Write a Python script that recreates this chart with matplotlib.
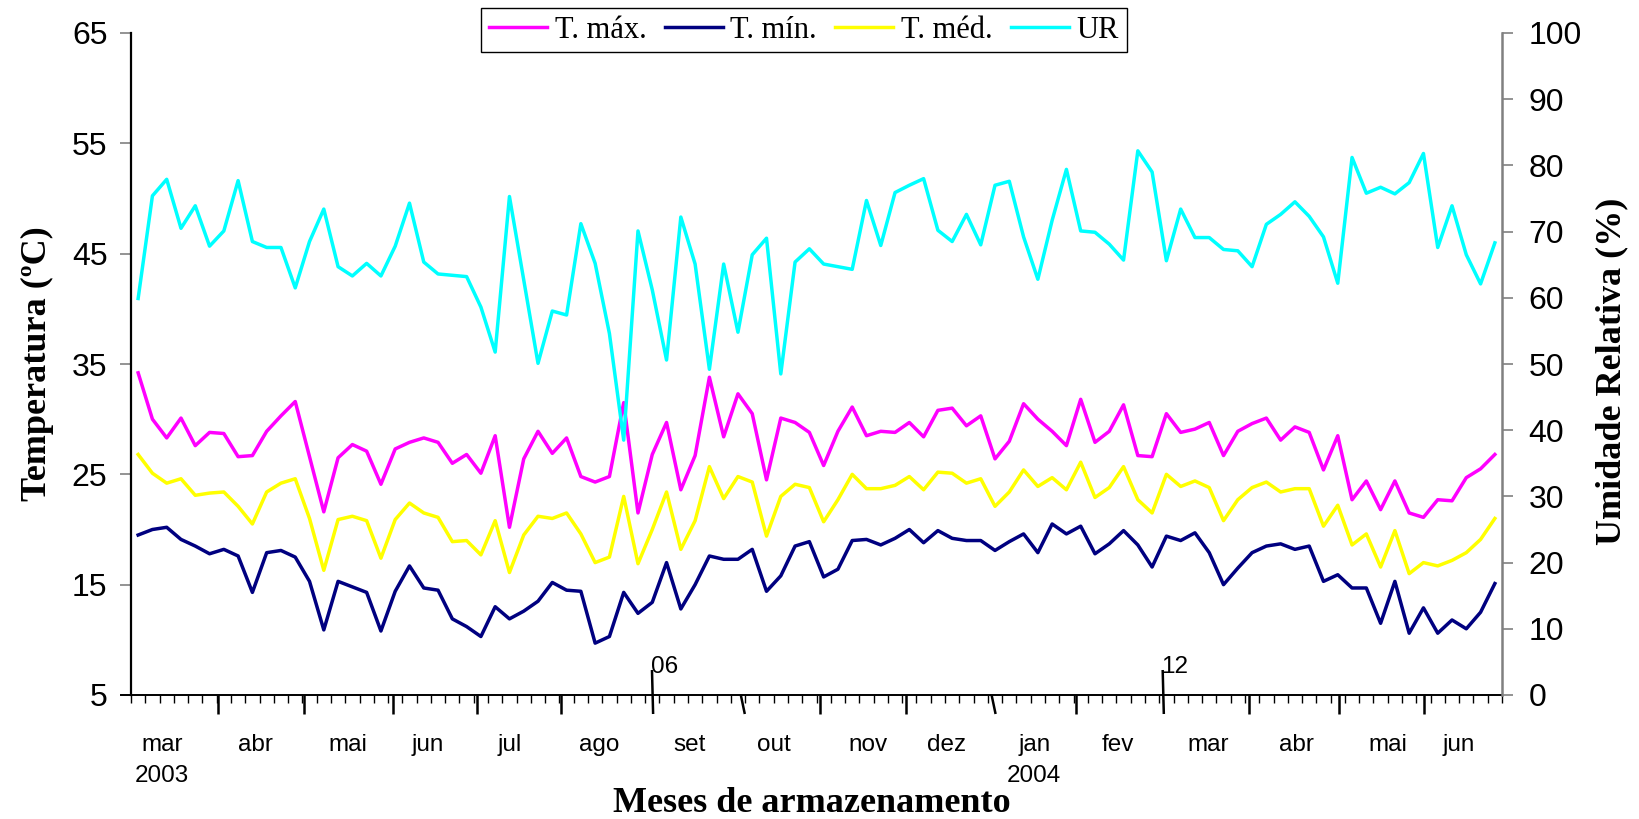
import matplotlib
matplotlib.use("Agg")
import matplotlib.pyplot as plt
import matplotlib.transforms as mtransforms
import numpy as np

# ---------------- data (5-day periods, mar/2003 - jun/2004) ----------------
t_max = [34.2, 30.0, 28.3, 30.1, 27.6, 28.8, 28.7, 26.6, 26.7, 28.9, 30.3, 31.6,
         26.6, 21.6, 26.5, 27.7, 27.1, 24.1, 27.3, 27.9, 28.3, 27.9, 26.0, 26.8,
         25.1, 28.5, 20.2, 26.4, 28.9, 26.9, 28.3, 24.8, 24.3, 24.8, 31.5, 21.5,
         26.8, 29.7, 23.6, 26.7, 33.8, 28.4, 32.3, 30.5, 24.5, 30.1, 29.7, 28.8,
         25.8, 28.9, 31.1, 28.5, 28.9, 28.8, 29.7, 28.4, 30.8, 31.0, 29.4, 30.3,
         26.4, 28.0, 31.4, 30.0, 28.9, 27.6, 31.8, 27.9, 28.9, 31.3, 26.7, 26.6,
         30.5, 28.8, 29.1, 29.7, 26.7, 28.9, 29.6, 30.1, 28.1, 29.3, 28.8, 25.4,
         28.5, 22.7, 24.4, 21.8, 24.4, 21.5, 21.1, 22.7, 22.6, 24.7, 25.5, 26.8]

t_min = [19.5, 20.0, 20.2, 19.1, 18.5, 17.8, 18.2, 17.6, 14.3, 17.9, 18.1, 17.5,
         15.3, 10.9, 15.3, 14.8, 14.3, 10.8, 14.4, 16.7, 14.7, 14.5, 11.9, 11.2,
         10.3, 13.0, 11.9, 12.6, 13.5, 15.2, 14.5, 14.4, 9.7, 10.3, 14.3, 12.4,
         13.4, 17.0, 12.8, 15.0, 17.6, 17.3, 17.3, 18.2, 14.4, 15.8, 18.5, 18.9,
         15.7, 16.4, 19.0, 19.1, 18.6, 19.2, 20.0, 18.8, 19.9, 19.2, 19.0, 19.0,
         18.1, 18.9, 19.6, 17.9, 20.5, 19.6, 20.3, 17.8, 18.7, 19.9, 18.6, 16.6,
         19.4, 19.0, 19.7, 17.9, 15.0, 16.5, 17.9, 18.5, 18.7, 18.2, 18.5, 15.3,
         15.9, 14.7, 14.7, 11.5, 15.3, 10.6, 12.9, 10.6, 11.8, 11.0, 12.5, 15.1]

t_med = [26.8, 25.1, 24.2, 24.6, 23.1, 23.3, 23.4, 22.1, 20.5, 23.4, 24.2, 24.6,
         21.0, 16.3, 20.9, 21.2, 20.8, 17.4, 20.9, 22.4, 21.5, 21.1, 18.9, 19.0,
         17.7, 20.8, 16.1, 19.5, 21.2, 21.0, 21.5, 19.6, 17.0, 17.5, 23.0, 16.9,
         20.0, 23.4, 18.2, 20.8, 25.7, 22.8, 24.8, 24.3, 19.4, 23.0, 24.1, 23.8,
         20.7, 22.7, 25.0, 23.7, 23.7, 24.0, 24.8, 23.6, 25.2, 25.1, 24.2, 24.6,
         22.1, 23.4, 25.4, 23.9, 24.7, 23.6, 26.1, 22.9, 23.8, 25.7, 22.7, 21.5,
         25.0, 23.9, 24.4, 23.8, 20.8, 22.7, 23.8, 24.3, 23.4, 23.7, 23.7, 20.3,
         22.2, 18.6, 19.6, 16.6, 19.9, 16.0, 17.0, 16.7, 17.2, 17.9, 19.1, 21.0]

ur = [59.9, 75.4, 77.9, 70.5, 73.9, 67.8, 70.1, 77.7, 68.5, 67.6, 67.6, 61.5,
      68.5, 73.4, 64.7, 63.3, 65.2, 63.3, 67.8, 74.3, 65.4, 63.6, 63.4, 63.2,
      58.6, 51.8, 75.3, 62.7, 50.1, 58.0, 57.4, 71.2, 65.2, 54.6, 38.5, 70.1,
      61.2, 50.6, 72.2, 65.1, 49.2, 65.1, 54.8, 66.5, 69.0, 48.5, 65.4, 67.4,
      65.1, 64.7, 64.3, 74.7, 67.9, 75.9, 77.0, 78.0, 70.2, 68.5, 72.6, 68.0,
      77.0, 77.6, 69.2, 62.8, 71.7, 79.4, 70.1, 69.9, 68.1, 65.7, 82.2, 79.0,
      65.6, 73.4, 69.1, 69.1, 67.3, 67.1, 64.7, 71.1, 72.6, 74.5, 72.3, 69.2,
      62.2, 81.2, 75.8, 76.7, 75.7, 77.4, 81.8, 67.6, 73.9, 66.5, 62.1, 68.3]

month_labels = ["mar", "abr", "mai", "jun", "jul", "ago", "set", "out",
                "nov", "dez", "jan", "fev", "mar", "abr", "mai", "jun"]
year_labels = ["2003", "2004"]
series_names = ["T. máx.", "T. mín.", "T. méd.", "UR"]
left_ticks = [5, 15, 25, 35, 45, 55, 65]
right_ticks = list(range(0, 101, 10))

# ---------------- layout helpers (positions in category units) ----------------
month_label_pos = [1.67, 8.18, 14.7, 20.3, 26.0, 32.3, 38.6, 44.5,
                   51.1, 56.6, 62.8, 68.6, 74.9, 81.1, 87.5, 92.5]
year_label_pos = [1.67, 62.7]
major_straight = [5.59, 11.61, 17.85, 23.73, 29.61, 47.75, 53.77, 65.68,
                  77.8, 84.1, 90.05]
major_slanted = [42.2, 59.76]
major_marked = [(35.98, "06"), (71.74, "12")]

W, H = 1639, 819
fig = plt.figure(figsize=(W / 100, H / 100), dpi=100)
L, R, T, B = 131, 1502, 33, 695
ax = fig.add_axes([L / W, 1 - B / H, (R - L) / W, (B - T) / H])
ax2 = ax.twinx()

n = len(t_max)
x = np.arange(n)
colors = ["#FF00FF", "#000080", "#FFFF00", "#00FFFF"]
lw = 2.5
h1, = ax.plot(x, t_max, color=colors[0], lw=lw, label=series_names[0])
h2, = ax.plot(x, t_min, color=colors[1], lw=lw, label=series_names[1])
h3, = ax.plot(x, t_med, color=colors[2], lw=lw, label=series_names[2])
h4, = ax2.plot(x, ur, color=colors[3], lw=lw, label=series_names[3])

ax.set_xlim(-0.5, n - 0.5)
ax.set_ylim(5, 65)
ax2.set_ylim(0, 100)

sans = "Liberation Sans"
serif = "Liberation Serif"

ax.set_yticks(left_ticks)
ax.set_yticklabels([str(v) for v in left_ticks], fontfamily=sans, fontsize=23)
ax.tick_params(axis="y", direction="out", length=8, width=1.2, color="#808080", pad=9)
ax2.set_yticks(right_ticks)
ax2.set_yticklabels([str(v) for v in right_ticks], fontfamily=sans, fontsize=23)
ax2.tick_params(axis="y", direction="out", length=8, width=1.2, color="#808080", pad=11)

for s in ["top", "right"]:
    ax.spines[s].set_visible(False)
for s in ["top", "left", "bottom"]:
    ax2.spines[s].set_visible(False)
ax.spines["left"].set_color("black")
ax.spines["left"].set_linewidth(1.6)
ax.spines["bottom"].set_visible(False)
ax2.spines["right"].set_color("#808080")
ax2.spines["right"].set_linewidth(1.8)

# x axis: minor ticks at category boundaries, major month ticks
ax.set_xticks(major_straight)
ax.set_xticklabels([])
ax.set_xticks(np.arange(-0.5, n, 1.0), minor=True)
ax.tick_params(axis="x", which="major", direction="out", length=14, width=1.8, color="black")
ax.tick_params(axis="x", which="minor", direction="out", length=6, width=1.0, color="black")

ax.plot([-0.0073, 1.0], [0, 0], transform=ax.transAxes, color="black", lw=1.4,
        clip_on=False, zorder=5)

trans = mtransforms.blended_transform_factory(ax.transData, ax.transAxes)
down = -19 / (B - T)
for p in major_slanted:
    ax.plot([p, p + 0.28], [0.0, down], transform=trans, color="black", lw=1.8,
            clip_on=False, solid_capstyle="butt")
for p, lab in major_marked:
    ax.plot([p, p + 0.08], [25 / (B - T), down], transform=trans, color="black",
            lw=1.8, clip_on=False, solid_capstyle="butt")
    ax.text(p - 0.1, 28 / (B - T), lab, transform=trans, ha="left", va="center",
            fontfamily=sans, fontsize=17.5)

for p, lab in zip(month_label_pos, month_labels):
    ax.text(p, -50 / (B - T), lab, transform=trans, ha="center", va="center",
            fontfamily=sans, fontsize=17.5)
for p, lab in zip(year_label_pos, year_labels):
    ax.text(p, -81 / (B - T), lab, transform=trans, ha="center", va="center",
            fontfamily=sans, fontsize=17.5)

# titles
fig.text(812 / W, 1 - 803 / H, "Meses de armazenamento", ha="center", va="center",
         fontfamily=serif, fontweight="bold", fontsize=26)
fig.text(37 / W, 1 - 364 / H, "Temperatura (ºC)", ha="center", va="center",
         rotation=90, fontfamily=serif, fontweight="bold", fontsize=26)
fig.text(1612 / W, 1 - 371 / H, "Umidade Relativa (%)", ha="center", va="center",
         rotation=90, fontfamily=serif, fontweight="bold", fontsize=26)

leg = fig.legend(handles=[h1, h2, h3, h4], loc="upper center",
                 bbox_to_anchor=(804 / W, 1 - 8 / H), ncol=4, frameon=True,
                 fancybox=False, edgecolor="black", framealpha=1,
                 prop={"family": serif, "size": 22}, handlelength=1.9,
                 handletextpad=0.25, columnspacing=0.6, borderpad=0.25,
                 borderaxespad=0)
leg.get_frame().set_linewidth(1.0)

fig.savefig("out.png", dpi=100)
